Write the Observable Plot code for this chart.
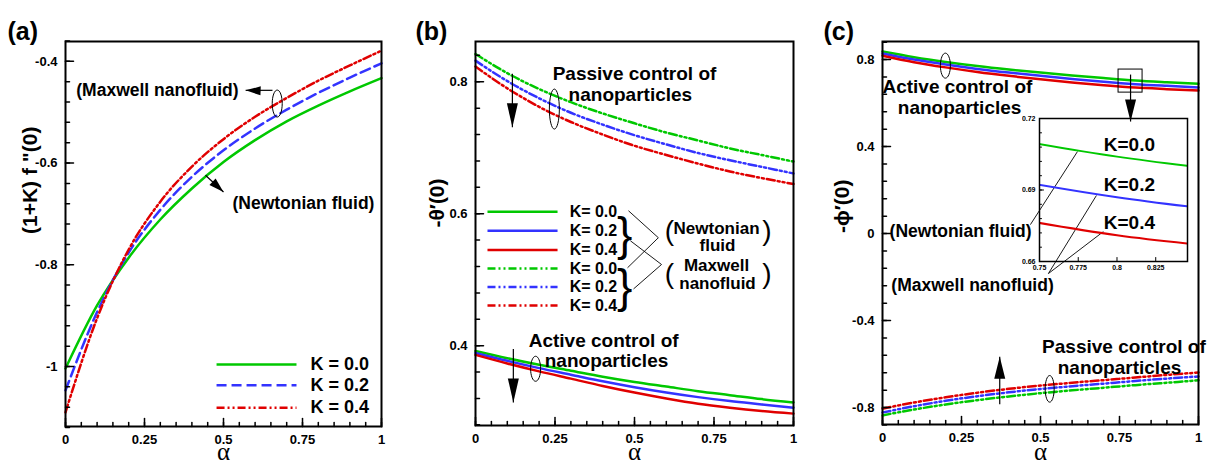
<!DOCTYPE html>
<html>
<head>
<meta charset="utf-8">
<script src="https://cdn.jsdelivr.net/npm/d3@7"></script>
<script src="https://cdn.jsdelivr.net/npm/@observablehq/plot@0.6"></script>
<style>
  body { margin: 0; background: #fff; }
  #wrap { position: relative; width: 1216px; height: 471px; overflow: hidden; background: #fff; }
  #wrap svg { overflow: visible; }
</style>
</head>
<body>
<div id="wrap"></div>
<script>
// ---------------- data ----------------
const alpha = [0, 0.1, 0.2, 0.3, 0.4, 0.5, 0.6, 0.7, 0.8, 0.9, 1];
const kValues = ["0.0", "0.2", "0.4"];
const kColors = ["#00c800", "#3333ff", "#e00000"];

// (a) (1+K) f''(0)
const skinK00 = [-1.004, -0.880, -0.786, -0.711, -0.650, -0.598, -0.555, -0.518, -0.487, -0.459, -0.433];
const skinK02 = [-1.047, -0.893, -0.776, -0.692, -0.627, -0.575, -0.532, -0.495, -0.462, -0.432, -0.404];
const skinK04 = [-1.090, -0.905, -0.770, -0.676, -0.607, -0.553, -0.509, -0.472, -0.438, -0.408, -0.379];

// (b) -theta'(0)
const heatActiveK00 = [0.392, 0.381, 0.371, 0.362, 0.353, 0.345, 0.338, 0.331, 0.325, 0.319, 0.314];
const heatActiveK02 = [0.389, 0.377, 0.366, 0.356, 0.346, 0.337, 0.329, 0.322, 0.316, 0.311, 0.306];
const heatActiveK04 = [0.386, 0.373, 0.361, 0.350, 0.339, 0.329, 0.320, 0.312, 0.306, 0.301, 0.297];
const heatPassiveK00 = [0.842, 0.813, 0.789, 0.769, 0.752, 0.737, 0.723, 0.711, 0.699, 0.689, 0.679];
const heatPassiveK02 = [0.832, 0.801, 0.775, 0.753, 0.735, 0.719, 0.705, 0.692, 0.681, 0.671, 0.661];
const heatPassiveK04 = [0.823, 0.790, 0.762, 0.739, 0.720, 0.703, 0.689, 0.676, 0.664, 0.654, 0.645];

// (c) -phi'(0)
const massActiveK00 = [0.837, 0.811, 0.789, 0.770, 0.754, 0.740, 0.727, 0.715, 0.704, 0.696, 0.689];
const massActiveK02 = [0.828, 0.800, 0.777, 0.757, 0.740, 0.725, 0.711, 0.698, 0.687, 0.679, 0.672];
const massActiveK04 = [0.818, 0.788, 0.764, 0.743, 0.725, 0.709, 0.695, 0.682, 0.671, 0.664, 0.658];
const massPassiveK00 = [-0.836, -0.809, -0.786, -0.766, -0.749, -0.734, -0.721, -0.709, -0.697, -0.686, -0.675];
const massPassiveK02 = [-0.823, -0.794, -0.769, -0.748, -0.730, -0.715, -0.702, -0.690, -0.678, -0.667, -0.657];
const massPassiveK04 = [-0.805, -0.777, -0.753, -0.732, -0.714, -0.699, -0.686, -0.674, -0.662, -0.650, -0.639];

const xMajor = [0, 0.25, 0.5, 0.75, 1];
const xMinor = d3.range(0, 1.0001, 0.05);

// ---------------- helpers ----------------
const FONT = "'Liberation Sans', Arial, Helvetica, sans-serif";
const DASHED = "10,5";
const DDOT = "8,3,2,3,2,3";
const wrap = document.getElementById("wrap");

function tidy(series) {
  return series.flatMap(s => alpha.map((a, i) => ({alpha: a, value: s.values[i], k: s.k, style: s.style})));
}
function place(node, left, top, w, h, clip) {
  const div = document.createElement("div");
  div.style.position = "absolute";
  div.style.left = left + "px";
  div.style.top = top + "px";
  div.style.width = w + "px";
  div.style.height = h + "px";
  if (clip) div.style.overflow = "hidden";
  div.appendChild(node);
  wrap.appendChild(div);
}
function ellipseSymbol(rx, ry) {
  const c = 0.5523;
  return {draw(ctx) {
    ctx.moveTo(rx, 0);
    ctx.bezierCurveTo(rx, c * ry, c * rx, ry, 0, ry);
    ctx.bezierCurveTo(-c * rx, ry, -rx, c * ry, -rx, 0);
    ctx.bezierCurveTo(-rx, -c * ry, -c * rx, -ry, 0, -ry);
    ctx.bezierCurveTo(c * rx, -ry, rx, -c * ry, rx, 0);
    ctx.closePath();
  }};
}
function headSymbol(len, hw) {
  return {draw(ctx) { ctx.moveTo(0, 0); ctx.lineTo(hw, len); ctx.lineTo(-hw, len); ctx.closePath(); }};
}
function ellipse(x, y, rx, ry) {
  return Plot.dot([0], {x: () => x, y: () => y, r: 5, symbol: ellipseSymbol(rx, ry), stroke: "black", fill: "none", strokeWidth: 1});
}
function arrow(x1, y1, x2, y2, angle, len, hw) {
  return [
    Plot.link([0], {x1: () => x1, y1: () => y1, x2: () => x2, y2: () => y2, stroke: "black", strokeWidth: 1.2}),
    Plot.dot([0], {x: () => x2, y: () => y2, r: 5, symbol: headSymbol(len, hw), rotate: angle, fill: "black", stroke: "none"})
  ];
}
function label(texts, opts) {
  return Plot.text(texts, {text: d => d.t, x: d => d.x, y: d => d.y, fontWeight: "bold", ...opts});
}
// inward ticks as two-point line segments (one z-group per tick)
function tickSegments(xDom, yDom, innerW, innerH, xMaj, xMin, yMaj, yMin, maj, mn) {
  const kx = (xDom[1] - xDom[0]) / innerW;
  const ky = (yDom[1] - yDom[0]) / innerH;
  const pts = [];
  const addX = (v, len, id) => { pts.push({id, px: v, py: yDom[0]}, {id, px: v, py: yDom[0] + len * ky}); };
  const addY = (v, len, id) => { pts.push({id, px: xDom[0], py: v}, {id, px: xDom[0] + len * kx, py: v}); };
  xMin.forEach((v, i) => addX(v, mn, "xm" + i));
  xMaj.forEach((v, i) => addX(v, maj, "xM" + i));
  yMin.forEach((v, i) => addY(v, mn, "ym" + i));
  yMaj.forEach((v, i) => addY(v, maj, "yM" + i));
  return pts;
}
function frameAxes(xDom, yDom, innerW, innerH, xMaj, xMin, yMaj, yMin, sizes) {
  const {maj = 8, mn = 4, fs = 13, pad = 8, tw = 1.5, fmt = d => String(d), yfmt = fmt} = sizes || {};
  const pts = tickSegments(xDom, yDom, innerW, innerH, xMaj, xMin, yMaj, yMin, maj, mn);
  return [
    Plot.line(pts, {x: "px", y: "py", z: "id", stroke: "black", strokeWidth: tw}),
    Plot.axisX(xMaj, {anchor: "bottom", tickSize: 0, tickPadding: pad, tickFormat: fmt, fontSize: fs, fontWeight: "bold", label: null}),
    Plot.axisY(yMaj, {anchor: "left", tickSize: 0, tickPadding: pad, tickFormat: yfmt, fontSize: fs, fontWeight: "bold", label: null})
  ];
}
function decor(panel, panelDx, yLabel, yDx, yDy, alphaDy) {
  return [
    Plot.text([panel], {text: d => d, frameAnchor: "top-left", dx: panelDx, dy: -19, textAnchor: "start", fontSize: 25, fontWeight: "bold"}),
    Plot.text([yLabel], {text: d => d, frameAnchor: "left", dx: yDx, dy: yDy, rotate: -90, fontSize: 21, fontWeight: "bold"}),
    Plot.text(["α"], {text: d => d, frameAnchor: "bottom", dy: alphaDy, fontSize: 25, fontFamily: "'Liberation Serif', 'DejaVu Serif', serif"}),
    Plot.frame({stroke: "black", strokeWidth: 2})
  ];
}
const lineOpts = {x: "alpha", y: "value", stroke: "k", strokeWidth: 2.5, curve: "monotone-x"};
const colorScale = {domain: kValues, range: kColors};
const baseStyle = {fontFamily: FONT, background: "transparent", overflow: "visible", color: "black"};

// ---------------- panel (a) ----------------
const domA = [-1.118, -0.361];
const dataA = tidy([
  {k: "0.0", values: skinK00}, {k: "0.2", values: skinK02}, {k: "0.4", values: skinK04}
]);
const legendRowsA = [-0.996, -1.037, -1.081];
const plotA = Plot.plot({
  width: 400, height: 471, marginLeft: 65, marginRight: 19, marginTop: 41, marginBottom: 45,
  x: {domain: [0, 1]}, y: {domain: domA}, color: colorScale, style: baseStyle,
  marks: [
    Plot.line(dataA, {...lineOpts, filter: d => d.k === "0.0"}),
    Plot.line(dataA, {...lineOpts, filter: d => d.k === "0.2", strokeDasharray: DASHED}),
    Plot.line(dataA, {...lineOpts, filter: d => d.k === "0.4", strokeDasharray: DDOT}),
    Plot.link(kValues, {filter: d => d === "0.0", x1: () => 0.478, x2: () => 0.731, y1: () => legendRowsA[0], y2: () => legendRowsA[0], stroke: d => d, strokeWidth: 2.5}),
    Plot.link(kValues, {filter: d => d === "0.2", x1: () => 0.478, x2: () => 0.731, y1: () => legendRowsA[1], y2: () => legendRowsA[1], stroke: d => d, strokeWidth: 2.5, strokeDasharray: DASHED}),
    Plot.link(kValues, {filter: d => d === "0.4", x1: () => 0.478, x2: () => 0.731, y1: () => legendRowsA[2], y2: () => legendRowsA[2], stroke: d => d, strokeWidth: 2.5, strokeDasharray: DDOT}),
    Plot.text(kValues, {x: () => 0.775, y: (d, i) => legendRowsA[i], text: d => `K = ${d}`, textAnchor: "start", fontSize: 18, fontWeight: "bold"}),
    label([{t: "(Maxwell nanofluid)", x: 0.291, y: -0.457}, {t: "(Newtonian fluid)", x: 0.753, y: -0.679}], {fontSize: 17.5}),
    ellipse(0.67, -0.483, 5, 13.5),
    ...arrow(0.655, -0.457, 0.570, -0.457, -88, 15, 4.5),
    ...arrow(0.443, -0.624, 0.500, -0.657, 133, 15, 4.5),
    ...frameAxes([0, 1], domA, 316, 385, xMajor, xMinor, [-1, -0.8, -0.6, -0.4], d3.range(-1.12, -0.35, 0.04)),
    ...decor("(a)", -58, "(1+K) f \"(0)", -35, 0, 33)
  ]
});
place(plotA, 0, 0, 400, 471, false);

// ---------------- panel (b) ----------------
const domB = [0.279, 0.861];
const dataB = tidy([
  {k: "0.0", values: heatActiveK00, style: "solid"},
  {k: "0.2", values: heatActiveK02, style: "solid"},
  {k: "0.4", values: heatActiveK04, style: "solid"},
  {k: "0.0", values: heatPassiveK00, style: "dash"},
  {k: "0.2", values: heatPassiveK02, style: "dash"},
  {k: "0.4", values: heatPassiveK04, style: "dash"}
]);
const legendRowsB = [0.603, 0.574, 0.545, 0.517, 0.489, 0.461];
const legendB = [...kValues.map(k => ({k, style: "solid"})), ...kValues.map(k => ({k, style: "dash"}))];
const plotB = Plot.plot({
  width: 420, height: 471, marginLeft: 75, marginRight: 27, marginTop: 41, marginBottom: 46,
  x: {domain: [0, 1]}, y: {domain: domB}, color: colorScale, style: baseStyle,
  marks: [
    Plot.line(dataB, {...lineOpts, filter: d => d.style === "solid"}),
    Plot.line(dataB, {...lineOpts, filter: d => d.style === "dash", strokeDasharray: DDOT}),
    Plot.link(legendB, {filter: d => d.style === "solid", x1: () => 0.0377, x2: () => 0.258, y1: (d, i) => legendRowsB[i], y2: (d, i) => legendRowsB[i], stroke: "k", strokeWidth: 2.5}),
    Plot.link(legendB, {filter: d => d.style === "dash", x1: () => 0.0377, x2: () => 0.258, y1: (d, i) => legendRowsB[i], y2: (d, i) => legendRowsB[i], stroke: "k", strokeWidth: 2.5, strokeDasharray: DDOT}),
    Plot.text(legendB, {x: () => 0.296, y: (d, i) => legendRowsB[i], text: d => `K= ${d.k}`, textAnchor: "start", fontSize: 16, fontWeight: "bold"}),
    label([{t: "}", x: 0.469, y: 0.567}, {t: "}", x: 0.469, y: 0.488}], {fontSize: 46, fontWeight: "normal"}),
    Plot.link([
      {x1: 0.481, y1: 0.6045, x2: 0.575, y2: 0.5636},
      {x1: 0.487, y1: 0.559, x2: 0.585, y2: 0.523},
      {x1: 0.478, y1: 0.518, x2: 0.575, y2: 0.5636},
      {x1: 0.497, y1: 0.486, x2: 0.585, y2: 0.523}
    ], {x1: "x1", y1: "y1", x2: "x2", y2: "y2", stroke: "black", strokeWidth: 0.9}),
    label([
      {t: "Newtonian", x: 0.758, y: 0.577}, {t: "fluid", x: 0.761, y: 0.552},
      {t: "Maxwell", x: 0.758, y: 0.521}, {t: "nanofluid", x: 0.761, y: 0.494}
    ], {fontSize: 17}),
    label([
      {t: "(", x: 0.610, y: 0.573}, {t: ")", x: 0.916, y: 0.573},
      {t: "(", x: 0.610, y: 0.508}, {t: ")", x: 0.916, y: 0.508}
    ], {fontSize: 28, fontWeight: "normal"}),
    label([
      {t: "Passive control of", x: 0.5, y: 0.812}, {t: "nanoparticles", x: 0.487, y: 0.780},
      {t: "Active control of", x: 0.403, y: 0.4076}, {t: "nanoparticles", x: 0.412, y: 0.377}
    ], {fontSize: 19}),
    ellipse(0.248, 0.7586, 5, 20),
    ellipse(0.189, 0.365, 5, 12.5),
    ...arrow(0.116, 0.812, 0.116, 0.731, 180, 24, 5.5),
    ...arrow(0.119, 0.395, 0.119, 0.314, 180, 24, 5.5),
    ...frameAxes([0, 1], domB, 318, 384, xMajor, xMinor, [0.4, 0.6, 0.8], d3.range(0.28, 0.861, 0.04)),
    ...decor("(b)", -60, "-θ′(0)", -38, -6, 34)
  ]
});
place(plotB, 400, 0, 420, 471, false);

// ---------------- panel (c) ----------------
const domC = [-0.878, 0.883];
const dataC = tidy([
  {k: "0.0", values: massActiveK00, style: "solid"},
  {k: "0.2", values: massActiveK02, style: "solid"},
  {k: "0.4", values: massActiveK04, style: "solid"},
  {k: "0.0", values: massPassiveK00, style: "dash"},
  {k: "0.2", values: massPassiveK02, style: "dash"},
  {k: "0.4", values: massPassiveK04, style: "dash"}
]);
const plotC = Plot.plot({
  width: 406, height: 471, marginLeft: 72, marginRight: 18, marginTop: 41, marginBottom: 47,
  x: {domain: [0, 1]}, y: {domain: domC}, color: colorScale, style: baseStyle,
  marks: [
    Plot.line(dataC, {...lineOpts, filter: d => d.style === "solid"}),
    Plot.line(dataC, {...lineOpts, filter: d => d.style === "dash", strokeDasharray: DDOT}),
    Plot.rect([0], {x1: () => 0.747, x2: () => 0.823, y1: () => 0.648, y2: () => 0.754, fill: "none", stroke: "black", strokeWidth: 1}),
    Plot.link([
      {x1: 0.468, y1: 0.041, x2: 0.617, y2: 0.377},
      {x1: 0.525, y1: -0.184, x2: 0.677, y2: 0.175},
      {x1: 0.525, y1: -0.184, x2: 0.699, y2: 0.009}
    ], {x1: "x1", y1: "y1", x2: "x2", y2: "y2", stroke: "black", strokeWidth: 0.9}),
    label([
      {t: "Active control of", x: 0.237, y: 0.676}, {t: "nanoparticles", x: 0.244, y: 0.579},
      {t: "Passive control of", x: 0.764, y: -0.52}, {t: "nanoparticles", x: 0.75, y: -0.616}
    ], {fontSize: 19}),
    label([
      {t: "(Newtonian fluid)", x: 0.247, y: 0.009}, {t: "(Maxwell nanofluid)", x: 0.285, y: -0.239}
    ], {fontSize: 17.5}),
    ellipse(0.199, 0.772, 5, 12.5),
    ellipse(0.529, -0.714, 4.5, 13.3),
    ...arrow(0.785, 0.731, 0.785, 0.515, 180, 22, 5.5),
    ...arrow(0.371, -0.785, 0.371, -0.566, 0, 22, 5.5),
    ...frameAxes([0, 1], domC, 316, 383, xMajor, xMinor, [-0.8, -0.4, 0, 0.4, 0.8], d3.range(-0.88, 0.881, 0.08)),
    ...decor("(c)", -59, "-ϕ′(0)", -40, 0, 35)
  ]
});
place(plotC, 810, 0, 406, 471, false);

// ---------------- inset in (c) ----------------
const insetData = dataC.filter(d => d.style === "solid");
const domIx = [0.75, 0.8455];
const domIy = [0.66, 0.72];
const insetY = [0.66, 0.69, 0.72];
const insetX = [0.75, 0.775, 0.8, 0.825];
const insetK = [0.709, 0.6923, 0.6764];
const plotInset = Plot.plot({
  width: 172, height: 172, marginLeft: 17, marginRight: 7, marginTop: 10, marginBottom: 19,
  x: {domain: domIx}, y: {domain: domIy}, color: colorScale, style: baseStyle,
  marks: [
    Plot.line(insetData, {x: "alpha", y: "value", stroke: "k", strokeWidth: 2, curve: "monotone-x", clip: true}),
    ...frameAxes(domIx, domIy, 148, 143, insetX, [], insetY, d3.range(0.66, 0.7201, 0.006),
      {maj: 4, mn: 2, fs: 7, pad: 4, tw: 1, fmt: d => String(d), yfmt: d => d.toFixed(2)}),
    Plot.frame({stroke: "black", strokeWidth: 1.5}),
    Plot.text(kValues, {x: () => 0.808, y: (d, i) => insetK[i], text: d => `K=${d}`, fontSize: 19, fontWeight: "bold"})
  ]
});
place(plotInset, 1022, 108, 172, 172, true);
</script>
</body>
</html>
